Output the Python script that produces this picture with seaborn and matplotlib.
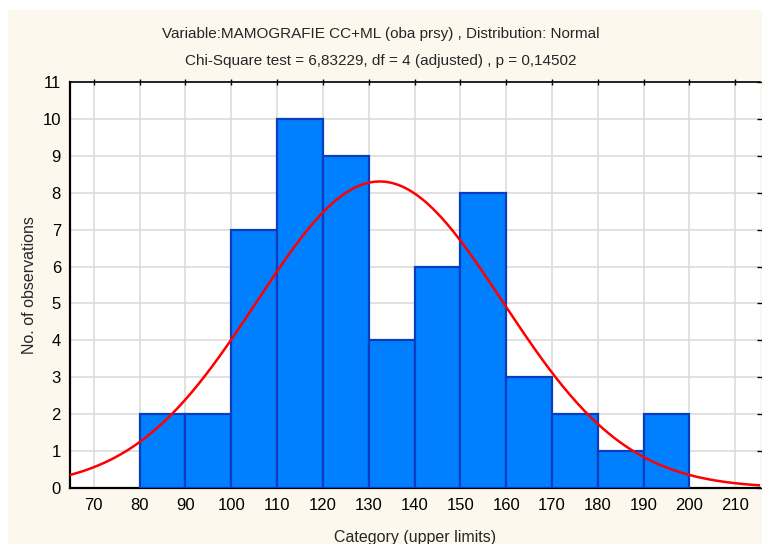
import numpy as np
import pandas as pd
import seaborn as sns
import matplotlib.pyplot as plt
from matplotlib.patches import Rectangle

# --- data ---
bin_edges = [80, 90, 100, 110, 120, 130, 140, 150, 160, 170, 180, 190, 200]
counts = [2, 2, 7, 10, 9, 4, 6, 8, 3, 2, 1, 2]
fit_mean = 132.4
fit_sd = 26.9
x_ticks = [70, 80, 90, 100, 110, 120, 130, 140, 150, 160, 170, 180, 190, 200, 210]
y_ticks = list(range(0, 12))
title1 = "Variable:MAMOGRAFIE CC+ML (oba prsy) , Distribution: Normal"
title2 = "Chi-Square test = 6,83229, df = 4 (adjusted) , p = 0,14502"
xlabel = "Category (upper limits)"
ylabel = "No. of observations"

sns.set_style("white")
plt.rcParams['font.family'] = ['Liberation Sans', 'DejaVu Sans']

fig = plt.figure(figsize=(7.62, 5.44), dpi=100)
fig.patch.set_facecolor("white")
fig.patches.append(Rectangle((8 / 762, 0), 1, 1 - 10 / 544, transform=fig.transFigure,
                             facecolor="#FCF8EE", edgecolor="none", zorder=-10))
ax = fig.add_axes([70 / 762, 1 - 488 / 544, (760 - 70) / 762, (488 - 82) / 544])
ax.set_facecolor("white")

centers = [(a + b) / 2 for a, b in zip(bin_edges[:-1], bin_edges[1:])]
df = pd.DataFrame({"x": centers, "n": counts})
sns.histplot(data=df, x="x", weights="n", bins=bin_edges, ax=ax,
             color="#0080FF", edgecolor="#0C3CC0", linewidth=1.6, alpha=1, zorder=3)

width = bin_edges[1] - bin_edges[0]
total = sum(counts)
xs = np.linspace(64.8, 215.5, 400)
ys = total * width / (fit_sd * np.sqrt(2 * np.pi)) * np.exp(-0.5 * ((xs - fit_mean) / fit_sd) ** 2)
sns.lineplot(x=xs, y=ys, ax=ax, color="#FF0000", linewidth=1.8, zorder=4)

ax.set_xlim(64.8, 215.4)
ax.set_ylim(0, 11)
ax.set_xticks(x_ticks)
ax.set_yticks(y_ticks)
ax.grid(True, color="#DCDCDC", linewidth=1.2, zorder=0)
ax.set_axisbelow(True)
for s in ["left", "bottom"]:
    ax.spines[s].set_color("black")
    ax.spines[s].set_linewidth(1.6)
ax.spines["top"].set_color("black")
ax.spines["top"].set_linewidth(1.2)
ax.spines["right"].set_visible(False)
ax.tick_params(axis="both", which="both", direction="inout", length=5, width=1, labelsize=12,
               colors="black", top=True, right=True, labeltop=False, labelright=False)
ax.tick_params(axis="x", pad=5)
ax.tick_params(axis="y", pad=4)
ax.set_xlabel(xlabel, fontsize=11.5, labelpad=12)
ax.set_ylabel(ylabel, fontsize=11.5, labelpad=4)

fig.text(0.5, 1 - 34 / 544, title1, ha="center", va="center", fontsize=11)
fig.text(0.5, 1 - 61 / 544, title2, ha="center", va="center", fontsize=11)

fig.savefig("out.png", dpi=100, facecolor=fig.get_facecolor())
